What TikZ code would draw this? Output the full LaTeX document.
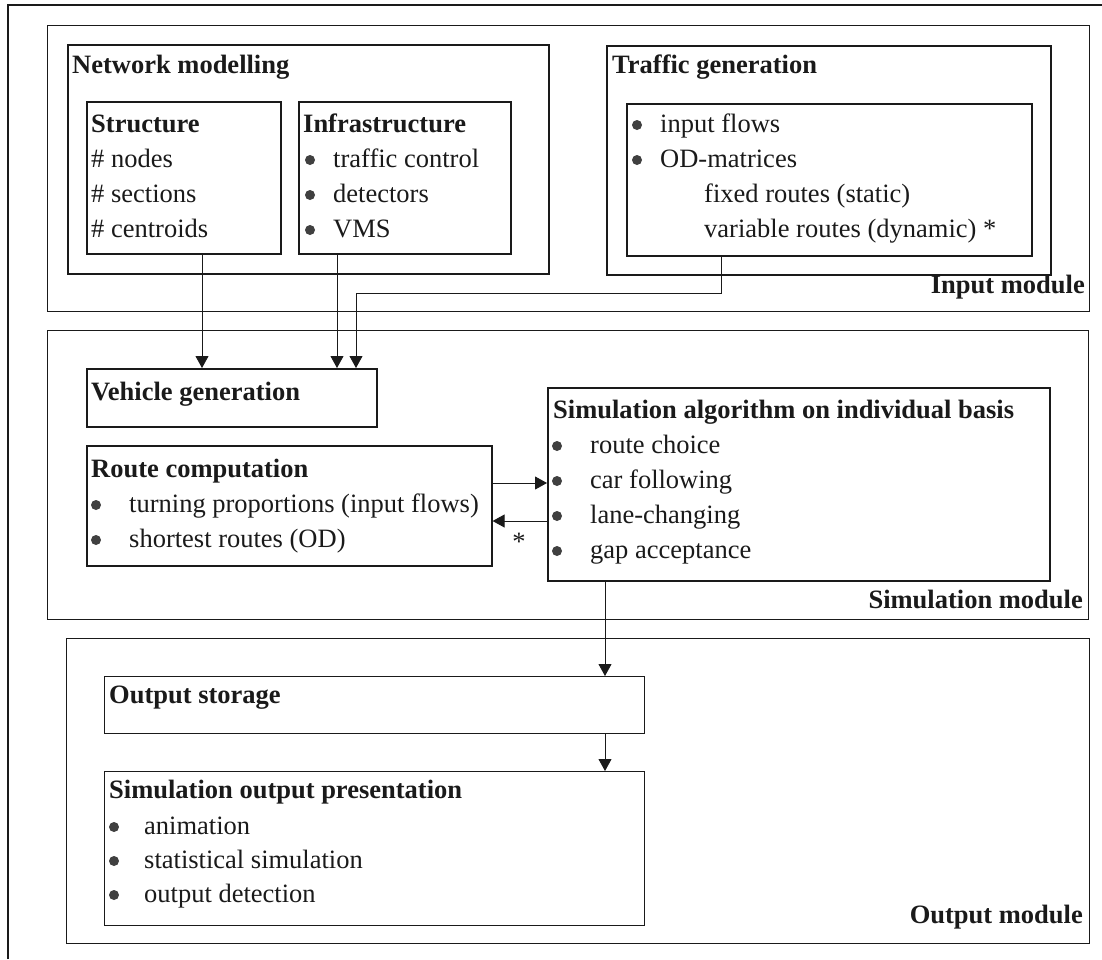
\documentclass[tikz,border=0pt]{standalone}
\usepackage{fontspec}
\setmainfont{Liberation Serif}
\usetikzlibrary{arrows.meta}
\definecolor{ink}{HTML}{1A1A1A}
\definecolor{dotc}{HTML}{404040}
\newcommand\bulletat[2]{\fill[dotc] (#1,#2-7) circle[radius=5pt];}
\begin{document}
\begin{tikzpicture}[x=1pt,y=-1pt,
  every node/.style={font=\fontsize{26.5pt}{32pt}\selectfont, text=ink},
  box/.style={draw=ink, line width=1.6pt, inner sep=0pt, anchor=north west},
  modbox/.style={box, line width=1.1pt},
  lightbox/.style={box, line width=1.1pt},
  txt/.style={anchor=base west, inner sep=0pt},
  ttl/.style={txt, font=\fontsize{26.5pt}{32pt}\selectfont\bfseries},
  modlbl/.style={anchor=base east, inner sep=0pt, font=\fontsize{26.5pt}{32pt}\selectfont\bfseries},
  arr/.style={draw=ink, line width=0.8pt, -{Triangle[length=12pt,width=13pt]}},
]
\path[use as bounding box, fill=white] (0,0) rectangle (1102,959);

% outer frame
\draw[ink, line width=1.2pt] (8,959) -- (8,5) -- (1102,5);

% ---------------- input module ----------------
\node[modbox, minimum width=1042pt, minimum height=286pt] (inmod) at (47,25) {};
\node[box, minimum width=481pt, minimum height=229pt] (net) at (67,44) {};
\node[box, minimum width=194pt, minimum height=152pt] (struct) at (86,101) {};
\node[box, minimum width=212pt, minimum height=152pt] (infra) at (298,101) {};
\node[box, minimum width=444pt, minimum height=229pt] (traf) at (606,45) {};
\node[box, minimum width=405pt, minimum height=152pt] (trafin) at (626,103) {};

\node[ttl] (netT) at (72,73) {Network modelling};
\node[ttl] (structT) at (91,132) {Structure};
\node[txt] (s1) at (91,167) {\# nodes};
\node[txt] (s2) at (91,202) {\# sections};
\node[txt] (s3) at (91,237) {\# centroids};

\node[ttl] (infraT) at (303,132) {Infrastructure};
\bulletat{310}{167}\bulletat{310}{202}\bulletat{310}{237}
\node[txt] (i1) at (333,167) {traffic control};
\node[txt] (i2) at (333,202) {detectors};
\node[txt] (i3) at (333,237) {VMS};

\node[ttl] (trafT) at (612,73) {Traffic generation};
\bulletat{637}{132}\bulletat{637}{167}
\node[txt] (g1) at (660,132) {input flows};
\node[txt] (g2) at (660,167) {OD-matrices};
\node[txt] (g3) at (704,202) {fixed routes (static)};
\node[txt] (g4) at (704,237) {variable routes (dynamic) *};

\node[modlbl] (inL) at (1085,293) {Input module};

% ---------------- simulation module ----------------
\node[modbox, minimum width=1041pt, minimum height=289pt] (simmod) at (47,330) {};
\node[box, minimum width=290pt, minimum height=58pt] (vgen) at (86,368) {};
\node[box, minimum width=405pt, minimum height=120pt] (route) at (86,445) {};
\node[box, minimum width=502pt, minimum height=193pt] (simalg) at (547,387) {};

\node[ttl] (vgenT) at (91,400) {Vehicle generation};
\node[ttl] (routeT) at (91,477) {Route computation};
\bulletat{96}{512}\bulletat{96}{547}
\node[txt] (r1) at (129,512) {turning proportions (input flows)};
\node[txt] (r2) at (129,547) {shortest routes (OD)};

\node[ttl] (simT) at (553,418) {Simulation algorithm on individual basis};
\bulletat{557}{453}\bulletat{557}{488}\bulletat{557}{523}\bulletat{557}{558}
\node[txt] (a1) at (590,453) {route choice};
\node[txt] (a2) at (590,488) {car following};
\node[txt] (a3) at (590,523) {lane-changing};
\node[txt] (a4) at (590,558) {gap acceptance};
\node[inner sep=0pt] (star) at (519,542) {*};

\node[modlbl] (simL) at (1083,608) {Simulation module};

% ---------------- output module ----------------
\node[modbox, minimum width=1023pt, minimum height=305pt] (outmod) at (66,638) {};
\node[lightbox, minimum width=540pt, minimum height=57pt] (store) at (104,676) {};
\node[lightbox, minimum width=540pt, minimum height=154pt] (pres) at (104,771) {};

\node[ttl] (storeT) at (109,703) {Output storage};
\node[ttl] (presT) at (109,798) {Simulation output presentation};
\bulletat{114}{834}\bulletat{114}{868}\bulletat{114}{902}
\node[txt] (p1) at (144,834) {animation};
\node[txt] (p2) at (144,868) {statistical simulation};
\node[txt] (p3) at (144,902) {output detection};

\node[modlbl] (outL) at (1083,923) {Output module};

% ---------------- connectors ----------------
\path ([xshift=116pt]struct.south west) coordinate (c1)
      ([xshift=39pt]infra.south west) coordinate (c2)
      ([xshift=95pt]trafin.south west) coordinate (c3)
      ([xshift=270pt]vgen.north west) coordinate (c4);
\draw[arr] (c1) -- (c1 |- vgen.north);
\draw[arr] (c2) -- (c2 |- vgen.north);
\draw[arr] (c3) -- ++(0,37) -| (c4);

\path ([yshift=-38pt]route.north east) coordinate (c5)
      ([yshift=-134pt]simalg.north west) coordinate (c6);
\draw[arr] (c5) -- (c5 -| simalg.west);
\draw[arr] (c6) -- (c6 -| route.east);

\path ([xshift=58pt]simalg.south west) coordinate (c7)
      ([xshift=501pt]store.south west) coordinate (c8);
\draw[arr] (c7) -- (c7 |- store.north);
\draw[arr] (c8) -- (c8 |- pres.north);
\end{tikzpicture}
\end{document}
